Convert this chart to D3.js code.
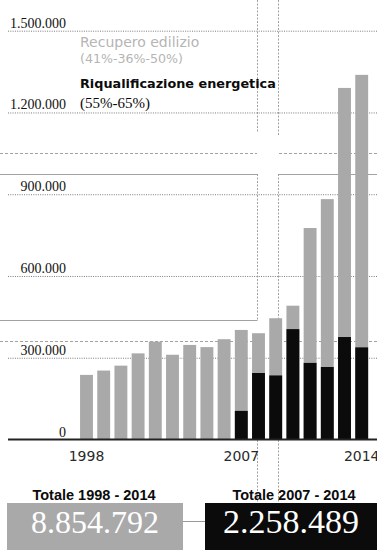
<!DOCTYPE html>
<html lang="it">
<head>
<meta charset="utf-8">
<script src="https://cdn.jsdelivr.net/npm/d3@7"></script>
<style>
  html, body { margin: 0; padding: 0; background: #fff; }
  svg { display: block; }
</style>
</head>
<body>
<svg id="chart" width="377" height="550"></svg>
<script>
// Anni della serie
const years = ["1998","1999","2000","2001","2002","2003","2004","2005","2006",
               "2007","2008","2009","2010","2011","2012","2013","2014"];
// Interventi di recupero edilizio (detrazioni 41%-36%-50%)
const recupero = [237000, 253000, 271000, 316000, 359000, 311000, 347000, 339000, 368000,
                  402000, 390000, 445000, 491000, 776000, 882000, 1290000, 1338000];
// Interventi di riqualificazione energetica (detrazioni 55%-65%), dal 2007
const energyYears = ["2007","2008","2009","2010","2011","2012","2013","2014"];
const riqualificazione = [105000, 244000, 235000, 405000, 281000, 266000, 376000, 338000];

const yTicks = [0, 300000, 600000, 900000, 1200000, 1500000];
const yearTicks = ["1998", "2007", "2014"];

const totalLabels = ["Totale 1998 - 2014", "Totale 2007 - 2014"];
const totalValues = ["8.854.792", "2.258.489"];

const itFormat = d3.formatLocale({decimal: ",", thousands: ".", grouping: [3], currency: ["", "€"]}).format(",");

const svg = d3.select("#chart");
const W = 377, H = 550;

const x = d3.scaleBand().domain(years).range([77.9, 370.3]).paddingInner(0.25).paddingOuter(0.125);
const y = d3.scaleLinear().domain([0, 1500000]).range([439.5, 30.7]);

const GRAY = "#a9a9a9";
const SERIF = "'Liberation Serif', 'DejaVu Serif', serif";
const SANS = "'Liberation Sans', Arial, sans-serif";
const DEJAVU = "'DejaVu Sans', sans-serif";

// Pieghe e riquadri della pagina
const crease = svg.append("g").attr("stroke", "#8a8a8a").attr("fill", "none").attr("stroke-width", 0.8);
crease.append("path").attr("d", "M257.5,0V132 M278.5,0V135 M257.5,174V320 M278.5,174V548 M257.5,440V512")
  .attr("stroke-dasharray", "2,1.5");
crease.append("path").attr("d", "M0,174.5H257.5 M278.5,174.5H377 M0,320.5H257.5");
crease.append("path").attr("d", "M0,153.5H257 M279,153.5H377 M0,341.5H257 M279,341.5H377")
  .attr("stroke-dasharray", "3,2");

// Asse verticale con griglia punteggiata
const yAxis = svg.append("g")
  .attr("transform", "translate(8,0)")
  .call(d3.axisLeft(y).tickValues(yTicks).tickFormat(itFormat).tickSize(-(W - 8)).tickPadding(0));
yAxis.select(".domain").remove();
yAxis.selectAll(".tick line")
  .attr("stroke", "#7a7a7a")
  .attr("stroke-width", 1)
  .attr("stroke-dasharray", "1,1.3")
  .filter(d => d === 0).remove();
yAxis.selectAll(".tick text")
  .attr("x", 58)
  .attr("dy", "-3.5")
  .attr("text-anchor", "end")
  .attr("fill", "#111")
  .style("font-family", SERIF)
  .style("font-size", "14px");

// Barre: totale recupero edilizio in grigio, riqualificazione energetica in nero
svg.append("g").selectAll("rect")
  .data(years.map((yr, i) => ({yr, v: recupero[i]})))
  .join("rect")
  .attr("x", d => x(d.yr))
  .attr("width", x.bandwidth())
  .attr("y", d => y(d.v))
  .attr("height", d => y(0) - y(d.v))
  .attr("fill", GRAY);

svg.append("g").selectAll("rect")
  .data(energyYears.map((yr, i) => ({yr, v: riqualificazione[i]})))
  .join("rect")
  .attr("x", d => x(d.yr))
  .attr("width", x.bandwidth())
  .attr("y", d => y(d.v))
  .attr("height", d => y(0) - y(d.v))
  .attr("fill", "#0b0b0b");

// Linea di base
svg.append("line")
  .attr("x1", 8).attr("x2", W)
  .attr("y1", y(0)).attr("y2", y(0))
  .attr("stroke", "#222").attr("stroke-width", 2);

// Asse orizzontale: anni
const xAxis = svg.append("g")
  .attr("transform", `translate(0,${y(0)})`)
  .call(d3.axisBottom(x).tickValues(yearTicks).tickSize(0).tickPadding(0));
xAxis.select(".domain").remove();
xAxis.selectAll(".tick text")
  .attr("y", 21.5)
  .attr("dy", 0)
  .attr("fill", "#2a2a2a")
  .style("font-family", DEJAVU)
  .style("font-size", "14px");

// Legenda
const leg = svg.append("g");
leg.append("text").attr("x", 80).attr("y", 46.5)
  .attr("fill", "#b5b5b5")
  .style("font-family", DEJAVU).style("font-size", "14px")
  .text("Recupero edilizio");
leg.append("text").attr("x", 80).attr("y", 62.5)
  .attr("fill", "#b5b5b5")
  .style("font-family", DEJAVU).style("font-size", "12.6px")
  .text("(41%-36%-50%)");
leg.append("text").attr("x", 80).attr("y", 88)
  .attr("fill", "#0b0b0b")
  .style("font-family", DEJAVU).style("font-weight", "bold").style("font-size", "12.8px")
  .text("Riqualificazione energetica");
leg.append("text").attr("x", 80).attr("y", 107.5)
  .attr("fill", "#0b0b0b")
  .style("font-family", SERIF).style("font-size", "15px")
  .text("(55%-65%)");

// Totali
const boxes = [
  {x0: 7, x1: 183, fill: GRAY, cx: 95, size: 32},
  {x0: 205, x1: W, fill: "#0b0b0b", cx: 291, size: 34}
];
svg.append("line")
  .attr("x1", boxes[0].x1).attr("x2", boxes[1].x0)
  .attr("y1", 521.5).attr("y2", 521.5)
  .attr("stroke", "#999").attr("stroke-width", 1);

svg.append("g").selectAll("rect")
  .data(boxes)
  .join("rect")
  .attr("x", d => d.x0).attr("y", 503)
  .attr("width", d => d.x1 - d.x0).attr("height", H - 503)
  .attr("fill", d => d.fill);

svg.append("g").selectAll("text")
  .data(totalLabels)
  .join("text")
  .attr("x", (d, i) => [94, 294][i])
  .attr("y", 500)
  .attr("text-anchor", "middle")
  .attr("fill", "#0b0b0b")
  .style("font-family", SANS).style("font-weight", "bold").style("font-size", "14.5px")
  .text(d => d);

svg.append("g").selectAll("text")
  .data(totalValues)
  .join("text")
  .attr("x", (d, i) => boxes[i].cx)
  .attr("y", 532.5)
  .attr("text-anchor", "middle")
  .attr("fill", "#fff")
  .style("font-family", SERIF).style("font-size", (d, i) => boxes[i].size + "px")
  .text(d => d);
</script>
</body>
</html>
